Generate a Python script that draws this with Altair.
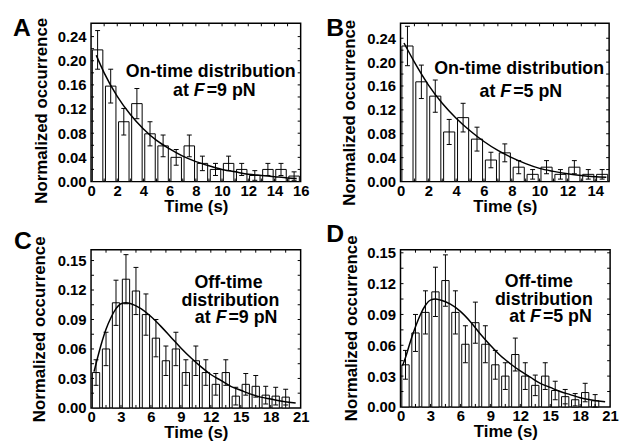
import altair as alt
import pandas as pd

FONT = "Liberation Sans"

# ---------------- Panel A: on-time, F = 9 pN ----------------
a_time = [0.5, 1.5, 2.5, 3.5, 4.5, 5.5, 6.5, 7.5, 8.5, 9.5, 10.5, 11.5, 12.5, 13.5, 14.5, 15.5]
a_occ = [0.218, 0.158, 0.099, 0.129, 0.079, 0.059, 0.040, 0.059, 0.030, 0.020, 0.030, 0.020, 0.010, 0.020, 0.020, 0.009]
a_err = [0.032, 0.028, 0.022, 0.025, 0.020, 0.018, 0.013, 0.018, 0.012, 0.010, 0.012, 0.010, 0.008, 0.010, 0.010, 0.007]
a_fit_t = [0.4, 1, 2, 3, 4, 5, 6, 7, 8, 9, 10, 11, 12, 13, 14, 15, 15.7]
a_fit_y = [0.209, 0.180, 0.141, 0.111, 0.087, 0.068, 0.054, 0.042, 0.033, 0.026, 0.020, 0.016, 0.012, 0.010, 0.008, 0.006, 0.005]
a_xlabels = [0, 2, 4, 6, 8, 10, 12, 14, 16]
a_ylabels = [0.00, 0.04, 0.08, 0.12, 0.16, 0.20, 0.24]
a_xticks = [1, 2, 3, 4, 5, 6, 7, 8, 9, 10, 11, 12, 13, 14, 15]
a_yticks = [0.02, 0.04, 0.06, 0.08, 0.10, 0.12, 0.14, 0.16, 0.18, 0.20, 0.22, 0.24]

# ---------------- Panel B: on-time, F = 5 pN ----------------
b_time = [0.5, 1.5, 2.5, 3.5, 4.5, 5.5, 6.5, 7.5, 8.5, 9.5, 10.5, 11.5, 12.5, 13.5, 14.5]
b_occ = [0.227, 0.167, 0.143, 0.083, 0.107, 0.071, 0.036, 0.048, 0.024, 0.012, 0.024, 0.012, 0.024, 0.012, 0.012]
b_err = [0.033, 0.028, 0.027, 0.021, 0.024, 0.020, 0.013, 0.015, 0.011, 0.008, 0.011, 0.008, 0.011, 0.008, 0.008]
b_fit_t = [0.25, 1, 2, 3, 4, 5, 6, 7, 8, 9, 10, 11, 12, 13, 14, 14.8]
b_fit_y = [0.232, 0.200, 0.162, 0.131, 0.106, 0.085, 0.067, 0.052, 0.040, 0.030, 0.022, 0.017, 0.013, 0.010, 0.008, 0.007]
b_xlabels = [0, 2, 4, 6, 8, 10, 12, 14]
b_ylabels = [0.00, 0.04, 0.08, 0.12, 0.16, 0.20, 0.24]
b_xticks = [1, 2, 3, 4, 5, 6, 7, 8, 9, 10, 11, 12, 13, 14]
b_yticks = [0.02, 0.04, 0.06, 0.08, 0.10, 0.12, 0.14, 0.16, 0.18, 0.20, 0.22, 0.24]

# ---------------- Panel C: off-time, F = 9 pN ----------------
c_time = [0.5, 1.5, 2.5, 3.5, 4.5, 5.5, 6.5, 7.5, 8.5, 9.5, 10.5, 11.5, 12.5, 13.5, 14.5, 15.5, 16.5, 17.5, 18.5, 19.5]
c_occ = [0.036, 0.060, 0.107, 0.131, 0.119, 0.095, 0.071, 0.048, 0.060, 0.036, 0.048, 0.036, 0.024, 0.036, 0.012, 0.024, 0.022, 0.013, 0.012, 0.011]
c_err = [0.013, 0.017, 0.023, 0.025, 0.024, 0.021, 0.019, 0.015, 0.017, 0.013, 0.015, 0.013, 0.011, 0.013, 0.009, 0.011, 0.011, 0.009, 0.009, 0.008]
c_fit_t = [0.3, 0.5, 1, 1.5, 2, 2.5, 3, 3.5, 4, 5, 6, 7, 8, 9, 10, 11, 12, 13, 14, 15, 16, 17, 18, 19, 20.5]
c_fit_y = [0.037, 0.045, 0.064, 0.080, 0.092, 0.101, 0.106, 0.107, 0.106, 0.101, 0.093, 0.083, 0.072, 0.061, 0.051, 0.042, 0.034, 0.028, 0.022, 0.018, 0.014, 0.011, 0.009, 0.007, 0.005]
c_xlabels = [0, 3, 6, 9, 12, 15, 18, 21]
c_ylabels = [0.00, 0.03, 0.06, 0.09, 0.12, 0.15]
c_xticks = [1.5, 3, 4.5, 6, 7.5, 9, 10.5, 12, 13.5, 15, 16.5, 18, 19.5]
c_yticks = [0.015, 0.03, 0.045, 0.06, 0.075, 0.09, 0.105, 0.12, 0.135, 0.15]

# ---------------- Panel D: off-time, F = 5 pN ----------------
d_time = [0.5, 1.5, 2.5, 3.5, 4.5, 5.5, 6.5, 7.5, 8.5, 9.5, 10.5, 11.5, 12.5, 13.5, 14.5, 15.5, 16.5, 17.5, 18.5, 19.5]
d_occ = [0.041, 0.072, 0.092, 0.112, 0.123, 0.092, 0.061, 0.082, 0.061, 0.041, 0.030, 0.051, 0.030, 0.021, 0.030, 0.016, 0.010, 0.007, 0.014, 0.006]
d_err = [0.014, 0.018, 0.021, 0.024, 0.025, 0.021, 0.018, 0.020, 0.018, 0.014, 0.013, 0.016, 0.013, 0.010, 0.013, 0.009, 0.007, 0.006, 0.009, 0.006]
d_fit_t = [0.2, 0.5, 1, 1.5, 2, 2.5, 3, 3.5, 4, 5, 6, 7, 8, 9, 10, 11, 12, 13, 14, 15, 16, 17, 18, 19, 20.5]
d_fit_y = [0.040, 0.048, 0.064, 0.078, 0.090, 0.099, 0.104, 0.105, 0.104, 0.100, 0.093, 0.083, 0.071, 0.060, 0.050, 0.042, 0.035, 0.029, 0.023, 0.019, 0.015, 0.012, 0.009, 0.007, 0.005]
d_xlabels = [0, 3, 6, 9, 12, 15, 18, 21]
d_ylabels = [0.00, 0.03, 0.06, 0.09, 0.12, 0.15]
d_xticks = [1.5, 3, 4.5, 6, 7.5, 9, 10.5, 12, 13.5, 15, 16.5, 18, 19.5]
d_yticks = [0.015, 0.03, 0.045, 0.06, 0.075, 0.09, 0.105, 0.12, 0.135, 0.15]

TICK = 3
ANN_SIZE = 18


def one_row(txt):
    return alt.Chart(pd.DataFrame({"label": [txt]}))


def text_layer(txt, x, y, size, align="center", style="normal", baseline="middle"):
    return one_row(txt).mark_text(
        font=FONT, fontSize=size, fontWeight="bold", fontStyle=style,
        align=align, baseline=baseline, color="black",
    ).encode(text="label:N", x=alt.value(x), y=alt.value(y))


def force_line(prefix, suffix, cx, y):
    # "at F=9 pN" with an italic F
    return [
        text_layer(prefix, cx - 25, y, ANN_SIZE, align="right"),
        text_layer("F", cx - 20, y, ANN_SIZE, align="left", style="italic"),
        text_layer(suffix, cx - 7, y, ANN_SIZE, align="left"),
    ]


def make_panel(time, occ, err, fit_t, fit_y, xmax, ymax, xlabels, ylabels,
               xticks, yticks, w, h, bar_w, letter, letter_pos, ann, ytitle_pos):
    df = pd.DataFrame({"t": time, "occ": occ, "err": err})
    df["x0"] = df["t"] - bar_w / 2
    df["x1"] = df["t"] + bar_w / 2
    df["lo"] = (df["occ"] - df["err"]).clip(lower=0)
    df["hi"] = df["occ"] + df["err"]
    df["zero"] = 0.0

    xs = alt.Scale(domain=[0, xmax], nice=False, zero=False)
    ys = alt.Scale(domain=[0, ymax], nice=False)
    ax_x = alt.Axis(values=xlabels, title="Time (s)", ticks=False, domain=False, grid=False,
                    labelFlush=False, labelOverlap=False, labelPadding=2, titlePadding=0)
    ax_y = alt.Axis(values=ylabels, format=".2f", title="Normalized occurrence",
                    ticks=False, domain=False, grid=False, labelPadding=5, labelOverlap=False,
                    titleX=ytitle_pos[0], titleY=ytitle_pos[1], titleBaseline="alphabetic")

    def X(f):
        return alt.X(f, scale=xs, axis=ax_x)

    def Y(f):
        return alt.Y(f, scale=ys, axis=ax_y)

    base = alt.Chart(df)
    rect = base.mark_rect(fill="white", stroke="black", strokeWidth=1).encode(
        x=X("x0:Q"), x2="x1:Q", y=Y("occ:Q"), y2="zero:Q")
    err_rule = base.mark_rule(color="black", strokeWidth=1).encode(
        x=X("t:Q"), y=Y("lo:Q"), y2="hi:Q")
    cap_hi = base.mark_rule(color="black", strokeWidth=1, xOffset=-2.5, x2Offset=2.5).encode(
        x=X("t:Q"), x2="t:Q", y=Y("hi:Q"))
    cap_lo = base.mark_rule(color="black", strokeWidth=1, xOffset=-2.5, x2Offset=2.5).encode(
        x=X("t:Q"), x2="t:Q", y=Y("lo:Q"))

    fit = alt.Chart(pd.DataFrame({"t": fit_t, "y": fit_y})).mark_line(
        color="black", strokeWidth=1.5, interpolate="monotone").encode(
        x=X("t:Q"), y=Y("y:Q"))

    xt = alt.Chart(pd.DataFrame({"v": xticks}))
    yt = alt.Chart(pd.DataFrame({"v": yticks}))
    tick_style = dict(color="black", strokeWidth=1)
    bottom = xt.mark_rule(**tick_style).encode(
        x=X("v:Q"), y=alt.value(h), y2=alt.value(h - TICK))
    top = xt.mark_rule(**tick_style).encode(
        x=X("v:Q"), y=alt.value(0), y2=alt.value(TICK))
    left = yt.mark_rule(**tick_style).encode(
        y=Y("v:Q"), x=alt.value(0), x2=alt.value(TICK))
    right = yt.mark_rule(**tick_style).encode(
        y=Y("v:Q"), x=alt.value(w), x2=alt.value(w - TICK))

    letter_mark = text_layer(letter, letter_pos[0], letter_pos[1], 25,
                             align="left", baseline="alphabetic")

    layers = [rect, err_rule, cap_hi, cap_lo, fit, bottom, top, left, right, letter_mark] + ann
    return alt.layer(*layers).properties(width=w, height=h)


# annotations (positions inside each plot area)
ann_a = [text_layer("On-time distribution", 121, 49, ANN_SIZE)] + force_line("at", "=9 pN", 124, 69)
ann_b = [text_layer("On-time distribution", 120, 46, ANN_SIZE)] + force_line("at", "=5 pN", 121, 70)
ann_c = [text_layer("Off-time", 139, 34, ANN_SIZE),
         text_layer("distribution", 141, 52, ANN_SIZE)] + force_line("at", "=9 pN", 146, 69)
ann_d = [text_layer("Off-time", 140, 33, ANN_SIZE),
         text_layer("distribution", 145, 51, ANN_SIZE)] + force_line("at", "=5 pN", 151, 68)

pa = make_panel(a_time, a_occ, a_err, a_fit_t, a_fit_y, 16, 0.262, a_xlabels, a_ylabels,
                a_xticks, a_yticks, 212, 160, 0.8, "A", (-79, 13), ann_a, (-45, 88))
pb = make_panel(b_time, b_occ, b_err, b_fit_t, b_fit_y, 15, 0.265, b_xlabels, b_ylabels,
                b_xticks, b_yticks, 211, 160, 0.8, "B", (-75, 13), ann_b, (-47, 90))
pc = make_panel(c_time, c_occ, c_err, c_fit_t, c_fit_y, 21, 0.161, c_xlabels, c_ylabels,
                c_xticks, c_yticks, 212, 160, 0.73, "C", (-78, -1), ann_c, (-47, 80))
pd_ = make_panel(d_time, d_occ, d_err, d_fit_t, d_fit_y, 21, 0.153, d_xlabels, d_ylabels,
                 d_xticks, d_yticks, 212, 159, 0.73, "D", (-75, -8), ann_d, (-45, 79))

chart = alt.concat(pa, pb, pc, pd_, columns=2, spacing={"row": 69, "column": 101}).properties(
    bounds="flush",
    padding={"left": 4, "top": 5, "right": 0, "bottom": 0},
    background="white",
).configure_view(
    stroke="black", strokeWidth=1.5
).configure_axis(
    labelFont=FONT, labelFontSize=15, labelFontWeight="bold", labelColor="black",
    titleFont=FONT, titleFontSize=17, titleFontWeight="bold", titleColor="black",
    labelOverlap=False,
)

chart.save("out.html", embed_options={"renderer": "svg", "actions": False})
